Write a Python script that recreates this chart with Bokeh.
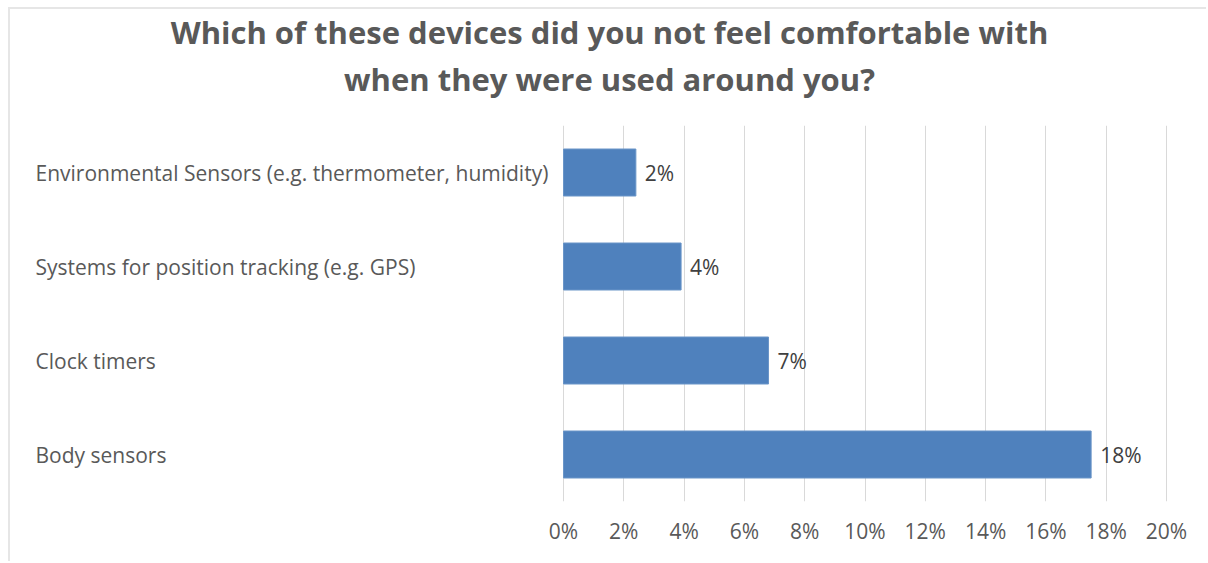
from bokeh.plotting import figure
from bokeh.models import Range1d, FactorRange, FixedTicker, PrintfTickFormatter, ColumnDataSource, Title
from bokeh.core.properties import value
from bokeh.embed import file_html
from bokeh.resources import INLINE

# ---- data ----
categories = [
    "Environmental Sensors (e.g. thermometer, humidity)",
    "Systems for position tracking (e.g. GPS)",
    "Clock timers",
    "Body sensors",
]
values = [2.4, 3.9, 6.8, 17.5]          # percent
tick_values = [0, 2, 4, 6, 8, 10, 12, 14, 16, 18, 20]
title_lines = [
    "Which of these devices did you not feel comfortable with",
    "when they were used around you?",
]

FONT = "Open Sans"
GRAY = "#595959"

# page geometry (pixels); the canvas starts after an 8px margin + 2px border
OX, OY = 10, 9
W, H = 1208 - OX, 563 - OY
frame_left, frame_right = 0, W
frame_top, frame_bottom = 125 - OY, 501 - OY
zero_px, twenty_px = 563 - OX, 1166 - OX
px_per_unit = (twenty_px - zero_px) / 20.0
x_start = -(zero_px - frame_left) / px_per_unit
x_end = (frame_right - zero_px) / px_per_unit

p = figure(
    width=W, height=H,
    x_range=Range1d(x_start, x_end),
    y_range=FactorRange(factors=list(reversed(categories)), range_padding=0),
    y_axis_location=None,
    output_backend="svg", toolbar_location=None,
    min_border_left=frame_left, min_border_right=0,
    min_border_top=frame_top, min_border_bottom=H - frame_bottom,
)
p.styles = {"margin-left": "8px", "margin-top": "7px",
            "border-left": "2px solid #e6e6e6", "border-top": "2px solid #e6e6e6"}
p.outline_line_color = None
p.background_fill_color = "white"
p.border_fill_color = "white"

src = ColumnDataSource(dict(
    cat=categories,
    val=values,
    lbl=[f"{v:.0f}%" for v in values],
    zero=[0] * len(values),
    lx=[(35 - OX - zero_px) / px_per_unit] * len(values),
))

p.hbar(y="cat", left="zero", right="val", height=0.5, source=src,
       fill_color="#4f81bd", line_color="#6a95c8", line_width=1)

p.text(x="val", y="cat", text="lbl", source=src, x_offset=9,
       text_font=value(FONT), text_font_size="21px", text_color="#404040",
       text_baseline="middle", text_align="left")

p.text(x="lx", y="cat", text="cat", source=src,
       text_font=value(FONT), text_font_size="21px", text_color=GRAY,
       text_baseline="middle", text_align="left")

# x axis
ax = p.xaxis[0]
ax.ticker = FixedTicker(ticks=tick_values)
ax.formatter = PrintfTickFormatter(format="%d%%")
ax.axis_line_color = None
ax.major_tick_line_color = None
ax.minor_tick_line_color = None
ax.major_tick_in = 0
ax.major_tick_out = 0
ax.major_label_standoff = 15
ax.major_label_text_font = FONT
ax.major_label_text_font_size = "21px"
ax.major_label_text_color = GRAY

p.xgrid.grid_line_color = "#d9d9d9"
p.xgrid.grid_line_width = 1
p.ygrid.grid_line_color = None

# title: two stacked lines (the Title added later sits nearest the frame)
p.title.text = title_lines[0]
p.title.align = "center"
p.title.vertical_align = "top"
p.title.text_font = FONT
p.title.text_font_size = "31px"
p.title.text_font_style = "bold"
p.title.text_color = GRAY
try:
    p.title.standoff = -42
    s2 = 48
except Exception:
    p.title.standoff = 1
    s2 = 25
p.add_layout(Title(text=title_lines[1], align="center", vertical_align="top",
                   text_font=FONT, text_font_size="31px", text_font_style="bold",
                   text_color=GRAY, standoff=s2), "above")

open("out.html", "w").write(file_html(p, INLINE))
